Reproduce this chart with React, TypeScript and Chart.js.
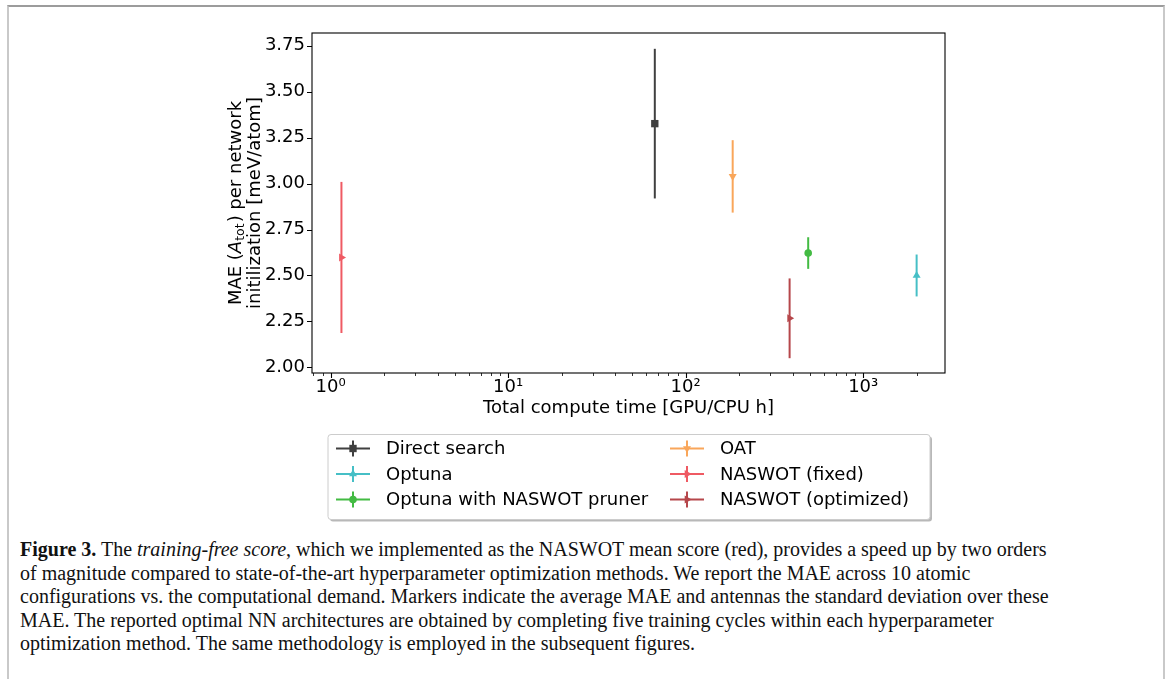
import React, { useEffect, useRef } from "react";
import { Chart, registerables } from "chart.js";
import { drawPoint } from "chart.js/helpers";

Chart.register(...registerables);

// ---------------- data ----------------
const methods = [
  "Direct search",
  "Optuna",
  "Optuna with NASWOT pruner",
  "OAT",
  "NASWOT (fixed)",
  "NASWOT (optimized)",
];
const computeHours = [67, 2000, 490, 184, 1.15, 385];
const meanMAE = [3.326, 2.5, 2.622, 3.039, 2.598, 2.267];
const stdMAE = [0.407, 0.114, 0.086, 0.197, 0.411, 0.217];
const colors = ["#404040", "#46bfc6", "#43bb43", "#f9a65a", "#ef5a63", "#b6474b"];
const markerStyles = ["rect", "triangle", "circle", "triangle", "triangle", "triangle"];
const markerRotations = [0, 0, 0, 180, 90, 90];
const markerRadii = [5.2, 4.6, 3.8, 4.6, 4.6, 4.6];

const yTicks = [2.0, 2.25, 2.5, 2.75, 3.0, 3.25, 3.5, 3.75];
const xMajorTicks = [1, 10, 100, 1000];
const xTickLabels = ["10\u2070", "10\u00b9", "10\u00b2", "10\u00b3"];
const xMinorTicks = [
  0.8, 0.9, 2, 3, 4, 5, 6, 7, 8, 9, 20, 30, 40, 50, 60, 70, 80, 90,
  200, 300, 400, 500, 600, 700, 800, 900, 2000,
];
const xRange = [0.785, 2890];
const yRange = [1.9695, 3.819];

const xTitle = "Total compute time [GPU/CPU h]";
const yTitleLine2 = "initilization [meV/atom]";

// legend layout: column-major, 3 rows
const legendOrder = [[0, 1, 2], [3, 4, 5]];

const FONT = "DejaVu Sans";
const FS = 18;

const captionLines: React.ReactNode[] = [
  <>
    <b>Figure 3.</b> The <i>training-free score</i>, which we implemented as the NASWOT mean score (red), provides a speed up by two orders
  </>,
  <>of magnitude compared to state-of-the-art hyperparameter optimization methods. We report the MAE across 10 atomic</>,
  <>configurations vs. the computational demand. Markers indicate the average MAE and antennas the standard deviation over these</>,
  <>MAE. The reported optimal NN architectures are obtained by completing five training cycles within each hyperparameter</>,
  <>optimization method. The same methodology is employed in the subsequent figures.</>,
];

function drawMarker(ctx: CanvasRenderingContext2D, i: number, x: number, y: number) {
  drawPoint(
    ctx,
    {
      pointStyle: markerStyles[i] as any,
      rotation: markerRotations[i],
      radius: markerRadii[i],
      borderWidth: 0,
    } as any,
    x,
    y
  );
}

const decorPlugin = {
  id: "decor",
  afterDraw(chart: any) {
    const ctx: CanvasRenderingContext2D = chart.ctx;
    const { left, right, top, bottom } = chart.chartArea;
    const xs = chart.scales.x;
    const ys = chart.scales.y;
    ctx.save();
    // spines
    ctx.strokeStyle = "#000";
    ctx.lineWidth = 1.1;
    ctx.strokeRect(left, top, right - left, bottom - top);
    // ticks
    ctx.beginPath();
    yTicks.forEach((v) => {
      const p = Math.round(ys.getPixelForValue(v)) + 0.5;
      ctx.moveTo(left, p);
      ctx.lineTo(left - 5, p);
    });
    xMajorTicks.forEach((v) => {
      const p = Math.round(xs.getPixelForValue(v)) + 0.5;
      ctx.moveTo(p, bottom);
      ctx.lineTo(p, bottom + 5);
    });
    ctx.stroke();
    ctx.beginPath();
    ctx.lineWidth = 0.8;
    xMinorTicks.forEach((v) => {
      const p = Math.round(xs.getPixelForValue(v)) + 0.5;
      ctx.moveTo(p, bottom);
      ctx.lineTo(p, bottom + 3);
    });
    ctx.stroke();

    // x title
    ctx.fillStyle = "#000";
    ctx.font = `${FS}px "${FONT}"`;
    ctx.textAlign = "center";
    ctx.textBaseline = "middle";
    ctx.fillText(xTitle, (left + right) / 2, bottom + 35);

    // y title (rotated, two lines, with subscript)
    const cy = (top + bottom) / 2;
    ctx.save();
    ctx.translate(left - 75.5, cy);
    ctx.rotate(-Math.PI / 2);
    ctx.textBaseline = "middle";
    ctx.textAlign = "left";
    const parts = [
      { t: "MAE (", f: `${FS}px "${FONT}"`, dy: 0 },
      { t: "A", f: `oblique ${FS}px "${FONT}"`, dy: 0 },
      { t: "tot", f: `12.5px "${FONT}"`, dy: 4.5 },
      { t: ") per network", f: `${FS}px "${FONT}"`, dy: 0 },
    ];
    let total = 0;
    parts.forEach((p) => {
      ctx.font = p.f;
      total += ctx.measureText(p.t).width + (p.t === "tot" ? 1 : 0);
    });
    let px = -total / 2;
    parts.forEach((p) => {
      ctx.font = p.f;
      ctx.fillText(p.t, px, p.dy);
      px += ctx.measureText(p.t).width + (p.t === "tot" ? 1 : 0);
    });
    ctx.font = `${FS}px "${FONT}"`;
    ctx.textAlign = "center";
    ctx.fillText(yTitleLine2, 0, 19);
    ctx.restore();

    // legend
    const lw = 602;
    const lh = 85;
    const lx = (left + right) / 2 - lw / 2 + 0.5;
    const ly = bottom + 61.5;
    const r = 3;
    const rr = (x: number, y: number, w: number, h: number) => {
      ctx.beginPath();
      ctx.moveTo(x + r, y);
      ctx.lineTo(x + w - r, y);
      ctx.quadraticCurveTo(x + w, y, x + w, y + r);
      ctx.lineTo(x + w, y + h - r);
      ctx.quadraticCurveTo(x + w, y + h, x + w - r, y + h);
      ctx.lineTo(x + r, y + h);
      ctx.quadraticCurveTo(x, y + h, x, y + h - r);
      ctx.lineTo(x, y + r);
      ctx.quadraticCurveTo(x, y, x + r, y);
      ctx.closePath();
    };
    ctx.fillStyle = "rgba(0,0,0,0.28)";
    rr(lx + 2, ly + 2, lw, lh);
    ctx.fill();
    ctx.fillStyle = "#fff";
    rr(lx, ly, lw, lh);
    ctx.fill();
    ctx.strokeStyle = "#cccccc";
    ctx.lineWidth = 1;
    ctx.stroke();

    const colX = [lx + 8, lx + 342];
    const rowY = [ly + 14, ly + 39.5, ly + 65];
    ctx.font = `${FS}px "${FONT}"`;
    ctx.textAlign = "left";
    ctx.textBaseline = "middle";
    legendOrder.forEach((col, ci) => {
      col.forEach((idx, ri) => {
        const x0 = colX[ci];
        const y0 = rowY[ri];
        ctx.strokeStyle = colors[idx];
        ctx.fillStyle = colors[idx];
        ctx.lineWidth = 2;
        ctx.beginPath();
        ctx.moveTo(x0, y0);
        ctx.lineTo(x0 + 34, y0);
        ctx.moveTo(x0 + 17, y0 - 8);
        ctx.lineTo(x0 + 17, y0 + 8);
        ctx.stroke();
        drawMarker(ctx, idx, x0 + 17, y0);
        ctx.fillStyle = "#000";
        ctx.fillText(methods[idx], x0 + 50, y0 + 1);
      });
    });
    ctx.restore();
  },
};

export default function App() {
  const ref = useRef<HTMLCanvasElement | null>(null);

  useEffect(() => {
    if (!ref.current) return;
    const errorSets = methods.map((m, i) => ({
      type: "line" as const,
      label: m + " error",
      data: [
        { x: computeHours[i], y: meanMAE[i] - stdMAE[i] },
        { x: computeHours[i], y: meanMAE[i] + stdMAE[i] },
      ],
      showLine: true,
      borderColor: colors[i],
      borderWidth: 2,
      pointRadius: 0,
      order: 2,
    }));
    const pointSets = methods.map((m, i) => ({
      type: "scatter" as const,
      label: m,
      data: [{ x: computeHours[i], y: meanMAE[i] }],
      backgroundColor: colors[i],
      borderColor: colors[i],
      borderWidth: 0,
      pointStyle: markerStyles[i],
      rotation: markerRotations[i],
      pointRadius: markerRadii[i],
      order: 1,
    }));

    const chart = new Chart(ref.current, {
      type: "scatter",
      data: { datasets: [...errorSets, ...pointSets] as any },
      options: {
        animation: false,
        responsive: false,
        devicePixelRatio: 1,
        layout: { padding: { left: 262, top: 33, right: 222, bottom: 97 } },
        plugins: { legend: { display: false }, tooltip: { enabled: false } },
        scales: {
          x: {
            type: "logarithmic",
            min: xRange[0],
            max: xRange[1],
            grid: { display: false, drawTicks: false },
            border: { display: false },
            afterBuildTicks: (s: any) => {
              s.ticks = xMajorTicks.map((v) => ({ value: v, major: true }));
            },
            afterFit: (s: any) => {
              s.height = 60;
            },
            ticks: {
              autoSkip: false,
              maxRotation: 0,
              padding: 4,
              color: "#000",
              font: { family: FONT, size: FS },
              callback: (_v: any, i: number) => xTickLabels[i],
            },
          },
          y: {
            type: "linear",
            min: yRange[0],
            max: yRange[1],
            grid: { display: false, drawTicks: false },
            border: { display: false },
            afterBuildTicks: (s: any) => {
              s.ticks = yTicks.map((v) => ({ value: v }));
            },
            afterFit: (s: any) => {
              s.width = 50;
            },
            ticks: {
              autoSkip: false,
              padding: 7,
              color: "#000",
              font: { family: FONT, size: FS },
              callback: (v: any) => Number(v).toFixed(2),
            },
          },
        },
      },
      plugins: [decorPlugin],
    });
    return () => chart.destroy();
  }, []);

  return (
    <div
      style={{
        position: "absolute",
        left: 0,
        top: 0,
        width: 1167,
        height: 679,
        background: "#fff",
        overflow: "hidden",
      }}
    >
      <div
        style={{
          position: "absolute",
          left: 7,
          top: 5,
          width: 1154,
          height: 720,
          borderTop: "2px solid #9c9c9c",
          borderLeft: "2px solid #c9c9c9",
          borderRight: "2px solid #c9c9c9",
        }}
      />
      <canvas
        ref={ref}
        width={1167}
        height={530}
        style={{ position: "absolute", left: 0, top: 0, width: 1167, height: 530 }}
      />
      <div
        style={{
          position: "absolute",
          left: 20,
          top: 538,
          fontFamily: '"Liberation Serif", serif',
          fontSize: 20,
          lineHeight: "23.5px",
          color: "#111",
          whiteSpace: "nowrap",
        }}
      >
        {captionLines.map((l, i) => (
          <div key={i}>{l}</div>
        ))}
      </div>
    </div>
  );
}
